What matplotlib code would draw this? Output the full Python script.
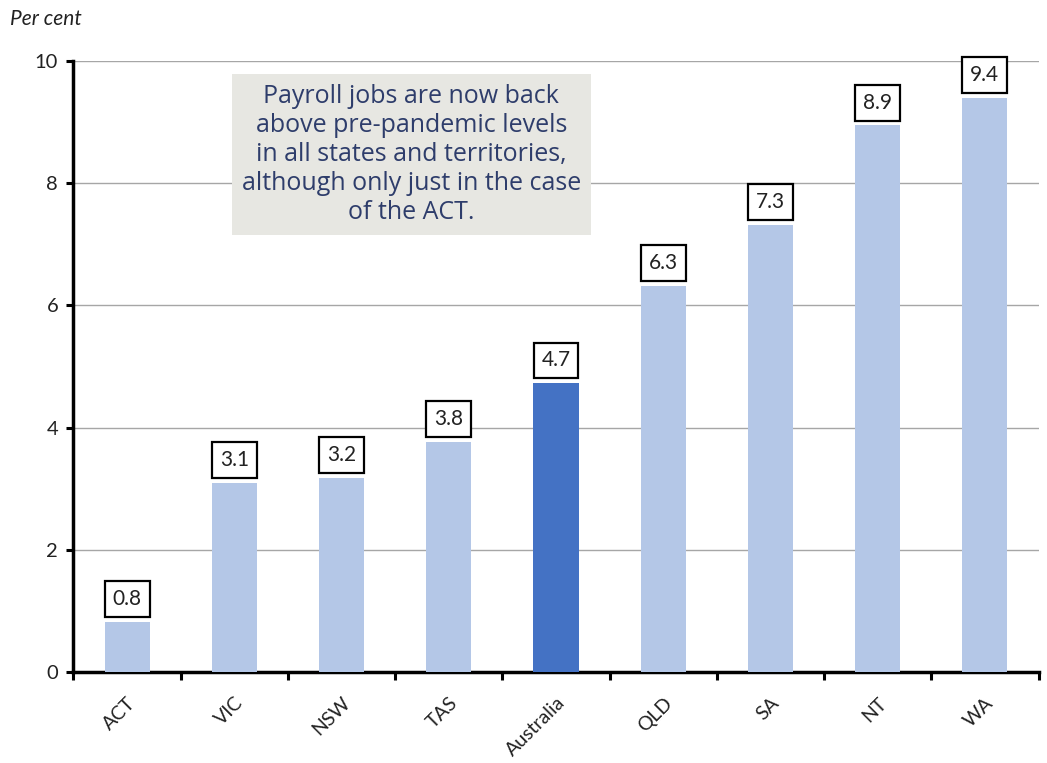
import matplotlib.pyplot as plt
import numpy as np

states = ["ACT", "VIC", "NSW", "TAS", "Australia", "QLD", "SA", "NT", "WA"]
growth = [0.82, 3.10, 3.18, 3.77, 4.73, 6.32, 7.32, 8.95, 9.40]
labels = ["0.8", "3.1", "3.2", "3.8", "4.7", "6.3", "7.3", "8.9", "9.4"]
yticks = [0, 2, 4, 6, 8, 10]

light = "#B4C7E7"
dark = "#4472C4"
colours = [dark if s == "Australia" else light for s in states]

plt.rcParams["font.family"] = ["Lato", "DejaVu Sans"]

fig = plt.figure(figsize=(10.47, 7.63), dpi=100)
ax = fig.add_axes([0.0702, 0.1193, 0.9217, 0.8008])

x = np.arange(len(states))
ax.bar(x, growth, width=0.42, color=colours, zorder=3)

for xi, v, lab in zip(x, growth, labels):
    ax.annotate(lab, (xi, v), xytext=(0, 9), textcoords="offset points",
                ha="center", va="bottom", fontsize=15, color="#222222", zorder=5,
                bbox=dict(boxstyle="square,pad=0.38", fc="white", ec="black", lw=1.6))

ax.set_xlim(-0.5, len(states) - 0.5)
ax.set_ylim(0, 10)
ax.set_yticks(yticks)
ax.set_yticklabels([str(t) for t in yticks], fontsize=14.5, color="#222222")
ax.yaxis.grid(True, color="#A6A6A6", lw=1.0, zorder=0)

ax.set_xticks(x)
ax.set_xticklabels(states, rotation=45, ha="right", rotation_mode="anchor",
                   fontsize=14, color="#222222")
ax.tick_params(axis="x", length=0, pad=16)
ax.set_xticks(np.arange(-0.5, len(states)), minor=True)
ax.tick_params(axis="x", which="minor", length=6, width=2.2, direction="out")
ax.tick_params(axis="y", length=5, width=2.2, pad=6)

for side in ["top", "right"]:
    ax.spines[side].set_visible(False)
ax.spines["left"].set_linewidth(2.5)
ax.spines["bottom"].set_linewidth(2.5)

fig.text(0.01, 0.975, "Per cent", fontsize=15, style="italic", color="#222222",
         ha="left", va="center")

ax.text(2.65, 8.47,
        "Payroll jobs are now back\nabove pre-pandemic levels\nin all states and territories,\n"
        "although only just in the case\nof the ACT.",
        ha="center", va="center", fontsize=18, color="#2E3D6B", linespacing=1.2,
        family=["Open Sans", "DejaVu Sans"], zorder=6,
        bbox=dict(boxstyle="square,pad=0.4", fc="#E7E7E2", ec="none"))

fig.savefig("out.png", dpi=100)
